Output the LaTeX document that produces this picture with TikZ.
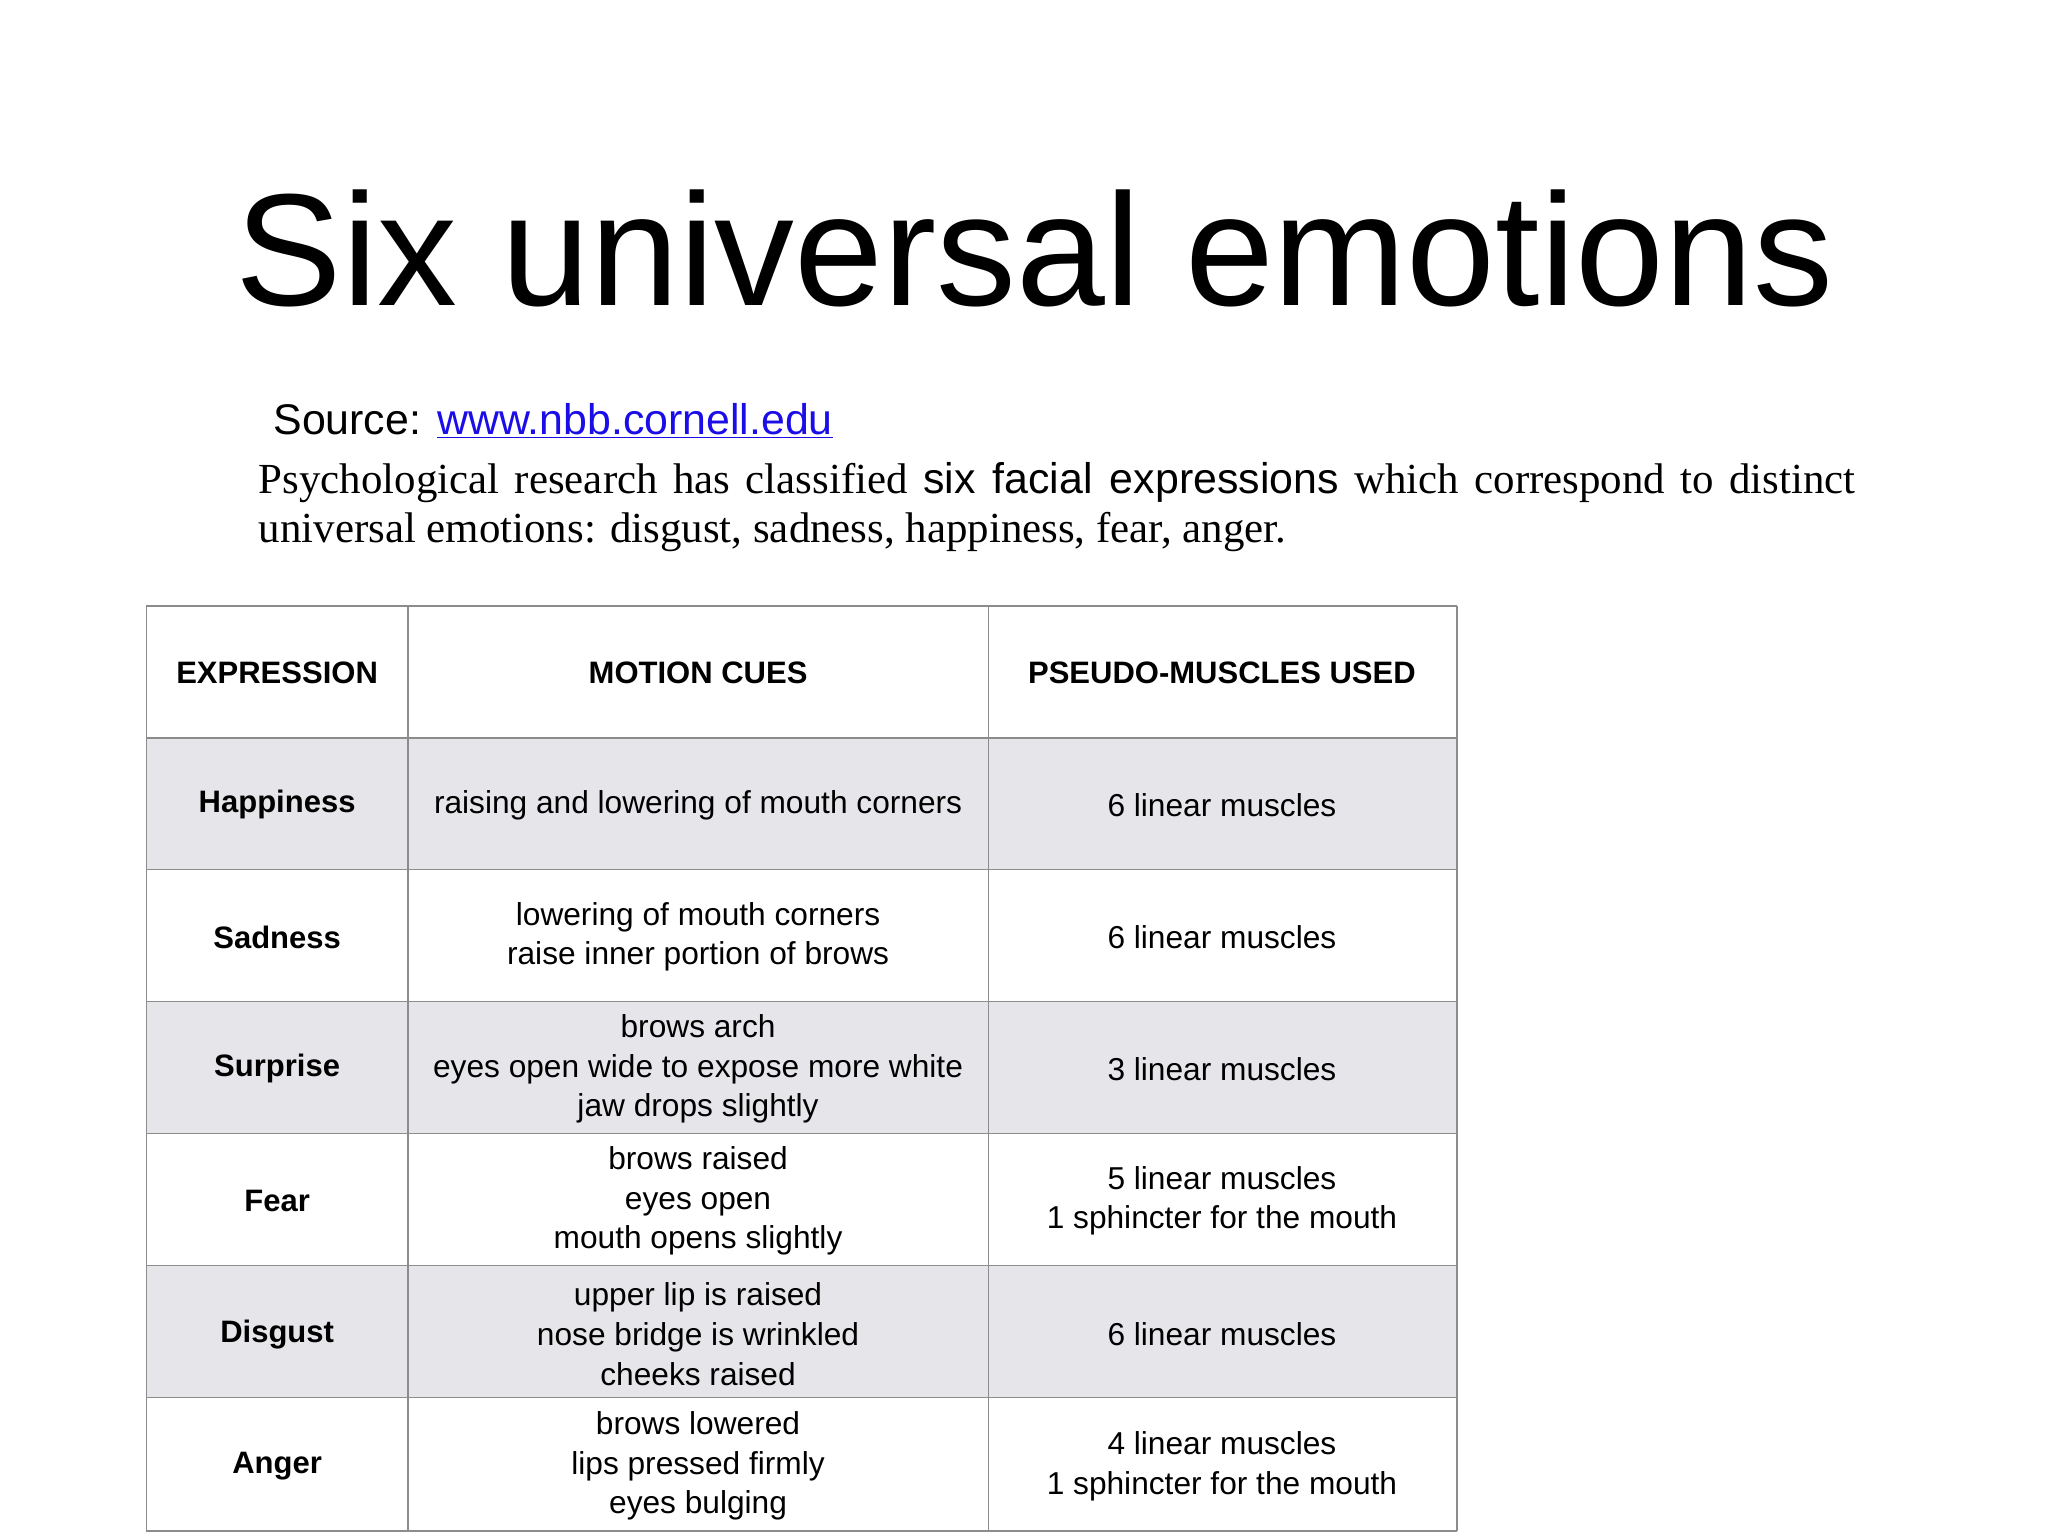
\documentclass[tikz,border=0pt]{standalone}
\usepackage{fontspec}
\setmainfont{Liberation Serif}
\setsansfont{Liberation Sans}
\definecolor{rowgray}{HTML}{E6E6EA}
\definecolor{gridc}{HTML}{8C8C8C}
\definecolor{linkblue}{HTML}{1A0DE8}
\begin{document}
\begin{tikzpicture}[x=1pt,y=-1pt,
  cell/.style={align=center,font=\sffamily\fontsize{24}{30}\selectfont,inner sep=0pt},
  head/.style={cell,font=\sffamily\bfseries\fontsize{23.5}{30}\selectfont}]
\useasboundingbox[fill=white] (0,0) rectangle (1552,1164);
\node[font=\sffamily\fontsize{121}{130}\selectfont,inner sep=0pt] (title) at (784,188) {Six universal emotions};
\node[anchor=west,font=\sffamily\fontsize{32.5}{36}\selectfont,inner sep=0pt] (src) at (207,319) {Source: \textcolor{linkblue}{\underline{www.nbb.cornell.edu}}};
\node[anchor=north west,text width=1210pt,align=justify,font=\fontsize{32.5}{37}\selectfont,inner sep=0pt] (body) at (196,350)
 {Psychological research has classified {\sffamily six facial expressions} which correspond to distinct universal emotions: disgust, sadness, happiness, fear, anger.};
\foreach \y in {559,759,959} \fill[rowgray] (111,\y) rectangle (1104,\y+100);
\foreach \y in {459,559,659,759,859,959,1059,1160} \draw[gridc,line width=1.3pt] (111,\y) -- (1104,\y);
\foreach \x in {111,309,749,1104} \draw[gridc,line width=1.3pt] (\x,459) -- (\x,1160);
\node[head] (h1) at (210,510) {EXPRESSION};
\node[head] (h2) at (529,510) {MOTION CUES};
\node[head] (h3) at (926,510) {PSEUDO-MUSCLES USED};
\foreach \n/\y/\e/\m/\p in {
 1/610/Happiness/{raising and lowering of mouth corners}/{6 linear muscles},
 2/710/Sadness/{lowering of mouth corners\\raise inner portion of brows}/{6 linear muscles},
 3/810/Surprise/{brows arch\\eyes open wide to expose more white\\jaw drops slightly}/{3 linear muscles},
 4/910/Fear/{brows raised\\eyes open\\mouth opens slightly}/{5 linear muscles\\1 sphincter for the mouth},
 5/1011/Disgust/{upper lip is raised\\nose bridge is wrinkled\\cheeks raised}/{6 linear muscles},
 6/1111/Anger/{brows lowered\\lips pressed firmly\\eyes bulging}/{4 linear muscles\\1 sphincter for the mouth}}{
 \node[head] (e\n) at (210,\y) {\e};
 \node[cell] (m\n) at (529,\y) {\m};
 \node[cell] (p\n) at (926,\y) {\p};
}
\end{tikzpicture}
\end{document}
